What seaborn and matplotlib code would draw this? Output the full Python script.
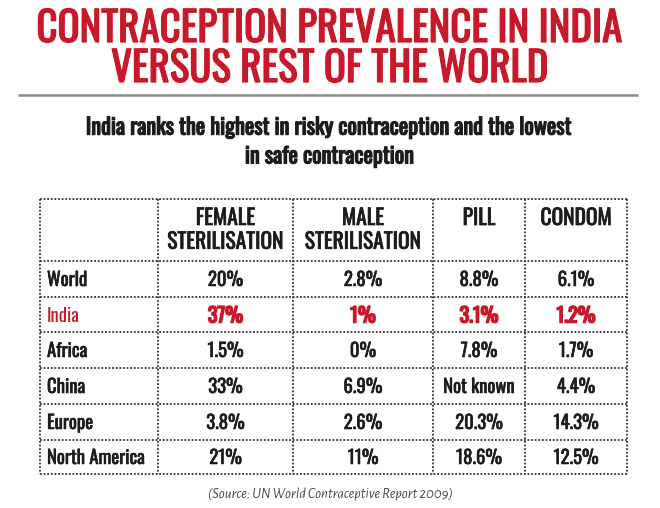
import matplotlib
matplotlib.use("Agg")
import matplotlib.pyplot as plt
import matplotlib.patheffects as pe
from matplotlib import font_manager as fm
import seaborn as sns
import pandas as pd

# ---- data ----
regions = ["World", "India", "Africa", "China", "Europe", "North America"]
column_labels = ["FEMALE\nSTERILISATION", "MALE\nSTERILISATION", "PILL", "CONDOM"]
female_sterilisation = [20, 37, 1.5, 33, 3.8, 21]
male_sterilisation = [2.8, 1, 0, 6.9, 2.6, 11]
pill = [8.8, 3.1, 7.8, None, 20.3, 18.6]
condom = [6.1, 1.2, 1.7, 4.4, 14.3, 12.5]
highlight_region = "India"

title = "CONTRACEPTION PREVALENCE IN INDIA\nVERSUS REST OF THE WORLD"
subtitle = "India ranks the highest in risky contraception and the lowest\nin safe contraception"
source = "(Source: UN World Contraceptive Report 2009)"

df = pd.DataFrame({
    "female": female_sterilisation,
    "male": male_sterilisation,
    "pill": pill,
    "condom": condom,
}, index=regions)


def fmt(v):
    if v is None or pd.isna(v):
        return "Not known"
    return f"{v:g}%"


# ---- fonts ----
_avail = {f.name for f in fm.fontManager.ttflist}


def pick(cands):
    for c in cands:
        if c in _avail:
            return [c, "DejaVu Sans"]
    return ["DejaVu Sans"]


COND = pick(["Oswald", "Fjalla One", "Pathway Gothic One", "Roboto Condensed",
             "Archivo Narrow", "PT Sans Narrow", "Liberation Sans Narrow"])
ITAL = pick(["Alegreya Sans", "Lato", "Open Sans"])


def heavy(lw, color):
    if lw <= 0:
        return []
    return [pe.withStroke(linewidth=lw, foreground=color)]


# ---- style ----
sns.set_theme(style="white")
plt.rcParams["font.family"] = COND
RED = "#C8192B"
DARK = "#1c1c1c"

fig = plt.figure(figsize=(6.6, 5.08), dpi=100)
ax = fig.add_axes([0, 0, 1, 1])
ax.set_xlim(0, 660)
ax.set_ylim(508, 0)
ax.axis("off")

# title
ax.text(330, 49, title, ha="center", va="center", color=RED, fontsize=29.5,
        family=COND, linespacing=1.0, path_effects=heavy(0.9, RED))
ax.hlines(95, 18, 638, color="#8a8a8a", lw=1.8)
ax.text(330, 142, subtitle, ha="center", va="center", color=DARK, fontsize=16,
        family=COND, linespacing=1.38, path_effects=heavy(0.9, DARK))

# table grid
col_edges = [40, 158, 293, 433, 525, 627]
row_edges = [199, 261, 297, 332, 368, 404, 440, 474]
dot = dict(color="#333333", lw=1.3, linestyle=(0, (1, 1)))
for y in row_edges:
    ax.hlines(y, col_edges[0], col_edges[-1], **dot)
for x in col_edges:
    ax.vlines(x, row_edges[0], row_edges[-1], **dot)

# header
for j, lab in enumerate(column_labels):
    cx = (col_edges[j + 1] + col_edges[j + 2]) / 2
    ax.text(cx, row_edges[0] + 8, lab, ha="center", va="top", fontsize=15.5,
            color=DARK, linespacing=1.1, path_effects=heavy(0.5, DARK))

# body
for i, reg in enumerate(df.index):
    cy = (row_edges[i + 1] + row_edges[i + 2]) / 2 + 1
    hi = reg == highlight_region
    col_txt = RED if hi else DARK
    ax.text(col_edges[0] + 7, cy, reg, ha="left", va="center", fontsize=13.5,
            color=col_txt, path_effects=heavy(0 if hi else 0.4, col_txt))
    for j, col in enumerate(df.columns):
        cx = (col_edges[j + 1] + col_edges[j + 2]) / 2
        ax.text(cx, cy, fmt(df.loc[reg, col]), ha="center", va="center",
                fontsize=14.5 if hi else 13.5, color=col_txt,
                path_effects=heavy(1.2 if hi else 0.4, col_txt))

ax.text(330, 494, source, ha="center", va="center", fontsize=10.5, style="italic",
        color="#444444", family=ITAL)

fig.savefig("out.png", dpi=100)
